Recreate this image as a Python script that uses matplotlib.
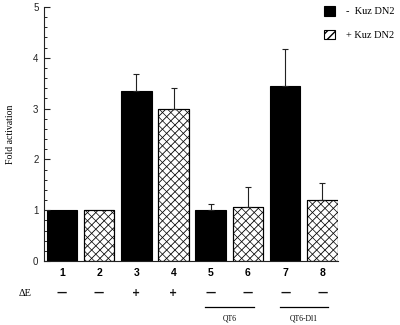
import matplotlib
matplotlib.use("Agg")
import matplotlib.pyplot as plt
import matplotlib.transforms as mtransforms
from matplotlib.ticker import MultipleLocator

lanes = [1, 2, 3, 4, 5, 6, 7, 8]
lane_labels = ["1", "2", "3", "4", "5", "6", "7", "8"]
values = [1.0, 1.0, 3.35, 3.0, 1.0, 1.07, 3.45, 1.21]
err_up = [0.0, 0.0, 0.33, 0.40, 0.13, 0.38, 0.72, 0.33]
delta_e = ["—", "—", "+", "+", "—", "—", "—", "—"]
kuz = ["-", "+", "-", "+", "-", "+", "-", "+"]
series_labels = {"-": "-  Kuz DN2", "+": "+ Kuz DN2"}
groups = [("QT6", 5, 6), ("QT6-Dl1", 7, 8)]
yticks = [0, 1, 2, 3, 4, 5]

fig = plt.figure(figsize=(4.0, 3.25), dpi=100)
ax = fig.add_axes([44 / 400, 64 / 325, 294 / 400, 254 / 325])

handles = {}
for x, v, k in zip(lanes, values, kuz):
    if k == "-":
        b = ax.bar(x, v, width=0.82, color="black", edgecolor="black", linewidth=0.8)
    else:
        with plt.rc_context({"hatch.color": "#aaaaaa", "hatch.linewidth": 0.5}):
            ax.bar(x, v, width=0.82, color="white", edgecolor="black",
                   linewidth=0.8, hatch="\\\\\\\\")
        with plt.rc_context({"hatch.color": "#333333", "hatch.linewidth": 0.6}):
            b = ax.bar(x, v, width=0.82, color="none", edgecolor="black",
                       linewidth=0.8, hatch="////")
    handles.setdefault(k, b)

ex = [x for x, e in zip(lanes, err_up) if e > 0]
ev = [v for v, e in zip(values, err_up) if e > 0]
ee = [e for e in err_up if e > 0]
ax.errorbar(ex, ev, yerr=[[0] * len(ee), ee], fmt="none", ecolor="#222222",
            elinewidth=0.8, capsize=2.2, capthick=0.8)

ax.set_xlim(0.52, 8.42)
ax.set_ylim(0, 5)
ax.set_yticks(yticks)
ax.yaxis.set_minor_locator(MultipleLocator(0.2))
ax.tick_params(axis="y", which="major", direction="in", length=4, width=0.8,
               pad=4, labelsize=7, colors="#222222")
ax.tick_params(axis="y", which="minor", direction="in", length=2, width=0.6)
ax.set_xticks([])
for s in ["top", "right"]:
    ax.spines[s].set_visible(False)
for s in ["left", "bottom"]:
    ax.spines[s].set_linewidth(0.8)
    ax.spines[s].set_color("#222222")
for lbl in ax.get_yticklabels():
    lbl.set_family("Liberation Sans")

ax.set_ylabel("Fold activation", family="Liberation Serif", fontsize=7, labelpad=13)

trans = mtransforms.blended_transform_factory(ax.transData, fig.transFigure)
for x, lab, d in zip(lanes, lane_labels, delta_e):
    ax.text(x, 1 - 273 / 325, lab, transform=trans, ha="center", va="center",
            fontsize=7.5, fontweight="bold", family="Liberation Sans")
    ax.text(x, 1 - 293 / 325, d, transform=trans, ha="center", va="center",
            fontsize=7 if d == "+" else 7.5, fontweight="bold", family="DejaVu Sans",
            color="#111111")
fig.text(25 / 400, 1 - 293 / 325, "ΔE", ha="center", va="center",
         fontsize=7.5, family="Liberation Serif")

for name, a, b in groups:
    ax.plot([a - 0.15, b + 0.16], [1 - 307 / 325] * 2, transform=trans,
            color="black", linewidth=0.9, clip_on=False)
    ax.text((a + b) / 2, 1 - 318 / 325, name, transform=trans,
            ha="center", va="center", fontsize=5.5, family="Liberation Serif")

leg = fig.legend([handles["-"], handles["+"]],
                 [series_labels["-"], series_labels["+"]],
                 loc="upper left", bbox_to_anchor=(318 / 400, 1.0),
                 frameon=False, prop={"family": "Liberation Serif", "size": 7.5},
                 handlelength=1.0, handleheight=1.0, handletextpad=1.1,
                 labelspacing=1.3, borderaxespad=0.2)

fig.savefig("out.png", dpi=100)
